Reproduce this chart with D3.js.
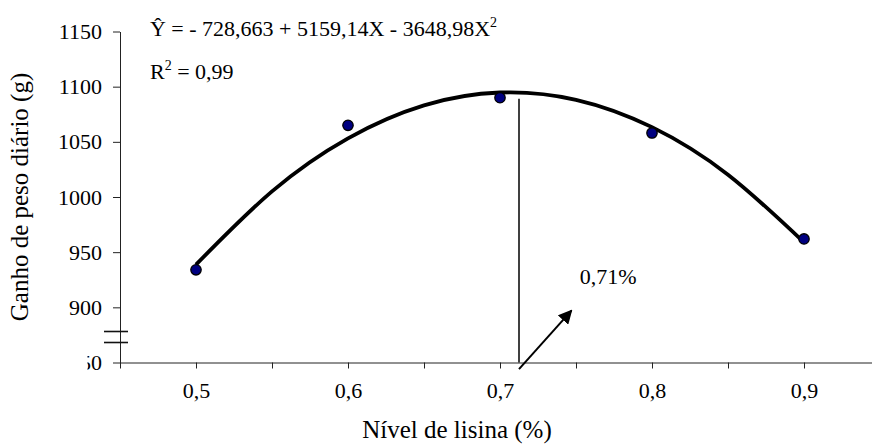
<!DOCTYPE html>
<html>
<head>
<meta charset="utf-8">
<script src="https://cdn.jsdelivr.net/npm/d3@7"></script>
<style>
  body { margin: 0; background: #fff; }
  svg text { font-family: "Liberation Serif", "Times New Roman", serif !important; }
</style>
</head>
<body>
<div id="graph"></div>
<script>
// Observed means
var lysine = [0.5, 0.6, 0.7, 0.8, 0.9];
var gain = [934, 1065, 1090, 1058, 962];

// Fitted curve, every 0.05
var curveX = [0.5, 0.55, 0.6, 0.65, 0.7, 0.75, 0.8, 0.85, 0.9];
var curveY = [938.7, 1005.1, 1053.2, 1083.1, 1094.7, 1088.1, 1063.3, 1020.2, 958.9];

// Axis ticks
var xTicks = [0.45, 0.5, 0.55, 0.6, 0.65, 0.7, 0.75, 0.8, 0.85, 0.9, 0.95];
var xTickLabels = ["", "0,5", "", "0,6", "", "0,7", "", "0,8", "", "0,9", ""];
var yTicks = [850, 900, 950, 1000, 1050, 1100, 1150];
var yTickLabels = ["850", "900", "950", "1000", "1050", "1100", "1150"];

// Optimum marker
var optimumX = 0.7125;
var optimumTop = 1089;
var arrowFrom = [0.7125, 844];
var arrowTo = [0.747, 897];

var width = 872, height = 444;
var margin = { top: 31.5, right: -8, bottom: 81.5, left: 120 };

var svg = d3.select("#graph")
    .append("svg")
        .attr("width", width)
        .attr("height", height);

var x = d3.scaleLinear().domain([0.45, 0.95]).range([margin.left, width - margin.right]);
var y = d3.scaleLinear().domain([850, 1150]).range([height - margin.bottom, margin.top]);

svg.append("defs").append("marker")
    .attr("id", "head")
    .attr("viewBox", "0 0 10 10")
    .attr("refX", 9).attr("refY", 5)
    .attr("markerWidth", 7).attr("markerHeight", 7)
    .attr("markerUnits", "strokeWidth")
    .attr("orient", "auto")
  .append("path")
    .attr("d", "M0,0L10,5L0,10z")
    .attr("fill", "#000");

// X axis
svg.append("g")
    .attr("transform", "translate(0," + y(850) + ")")
    .call(d3.axisBottom(x)
        .tickValues(xTicks)
        .tickFormat(function(d, i) { return xTickLabels[i]; })
        .tickSize(6)
        .tickSizeOuter(0)
        .tickPadding(14));

// Y axis
svg.append("g")
    .attr("transform", "translate(" + x(0.45) + ",0)")
    .call(d3.axisLeft(y)
        .tickValues(yTicks)
        .tickFormat(function(d, i) { return yTickLabels[i]; })
        .tickSize(7)
        .tickSizeOuter(0)
        .tickPadding(11));

svg.selectAll(".tick text")
    .attr("font-size", 22)
    .attr("fill", "#000");
svg.selectAll(".domain, .tick line").attr("stroke", "#222");

// mask part of the "850" label behind the axis break
svg.append("rect")
    .attr("x", 60).attr("y", y(850) - 14)
    .attr("width", 27.5).attr("height", 28)
    .attr("fill", "#fff");

// axis break marks
[y(850) - 31, y(850) - 20].forEach(function(py) {
    svg.append("line")
        .attr("x1", x(0.45) - 16).attr("x2", x(0.45) + 8)
        .attr("y1", py).attr("y2", py)
        .attr("stroke", "#111").attr("stroke-width", 1.6);
});

// Fitted curve
var valueline = d3.line()
    .x(function(d, i) { return x(curveX[i]); })
    .y(function(d) { return y(d); })
    .curve(d3.curveNatural);

svg.append("path")
    .datum(curveY)
    .attr("d", valueline)
    .attr("fill", "none")
    .attr("stroke", "#000")
    .attr("stroke-width", 3.8);

// Points
svg.selectAll("circle.pt")
    .data(gain)
  .enter().append("circle")
    .attr("class", "pt")
    .attr("cx", function(d, i) { return x(lysine[i]); })
    .attr("cy", function(d) { return y(d); })
    .attr("r", 5.2)
    .attr("fill", "#000080")
    .attr("stroke", "#000")
    .attr("stroke-width", 1.3);

// Optimum line and arrow
svg.append("line")
    .attr("x1", x(optimumX)).attr("x2", x(optimumX))
    .attr("y1", y(850)).attr("y2", y(optimumTop))
    .attr("stroke", "#000").attr("stroke-width", 1.5);

svg.append("line")
    .attr("x1", x(arrowFrom[0])).attr("y1", y(arrowFrom[1]))
    .attr("x2", x(arrowTo[0])).attr("y2", y(arrowTo[1]))
    .attr("stroke", "#000").attr("stroke-width", 2)
    .attr("marker-end", "url(#head)");

svg.append("text")
    .attr("x", x(0.7525)).attr("y", y(921))
    .attr("font-size", 22)
    .text("0,71%");

// Equation
var eq = svg.append("text")
    .attr("x", x(0.4697)).attr("y", 36)
    .attr("font-size", 22);
eq.append("tspan").text("Ŷ = - 728,663 + 5159,14X - 3648,98X");
eq.append("tspan").attr("dy", -9).attr("font-size", 14).text("2");

var r2 = svg.append("text")
    .attr("x", x(0.4697)).attr("y", 79)
    .attr("font-size", 22);
r2.append("tspan").text("R");
r2.append("tspan").attr("dy", -9).attr("font-size", 14).text("2");
r2.append("tspan").attr("dy", 9).text(" = 0,99");

// Axis titles
svg.append("text")
    .attr("x", 457).attr("y", 438)
    .attr("text-anchor", "middle")
    .attr("font-size", 25)
    .text("Nível de lisina (%)");

svg.append("text")
    .attr("transform", "translate(28," + (margin.top + y(850)) / 2 + ") rotate(-90)")
    .attr("text-anchor", "middle")
    .attr("font-size", 25)
    .text("Ganho de peso diário (g)");
</script>
</body>
</html>
